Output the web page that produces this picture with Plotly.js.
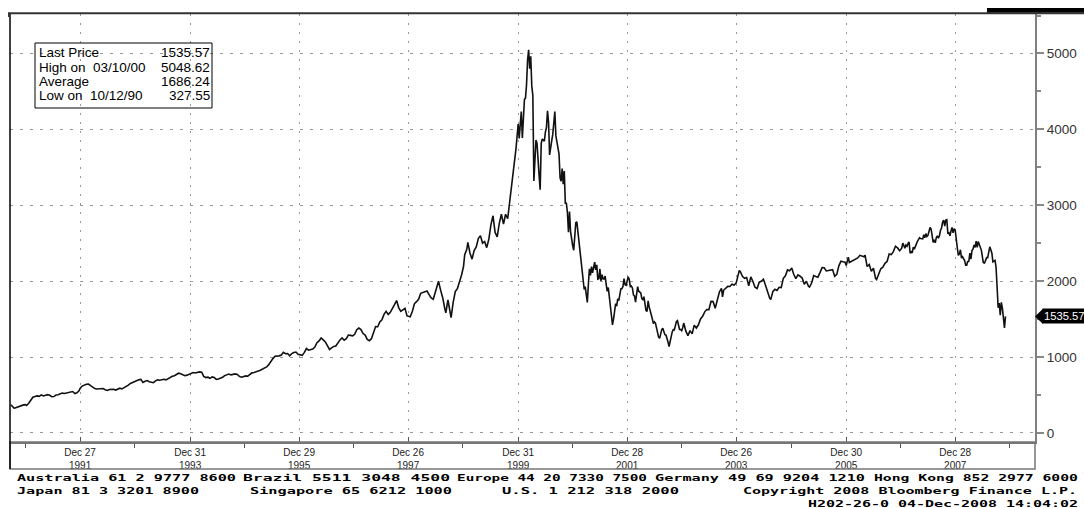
<!DOCTYPE html>
<html><head><meta charset="utf-8">
<script src="https://cdn.plot.ly/plotly-3.0.1.min.js"></script>
<style>html,body{margin:0;padding:0;background:#fff}#chart{width:1084px;height:508px}</style>
</head><body><div id="chart"></div>
<script>
// ---- data (weekly closes) ----
const dates = [
'1990-09-21','1990-10-05','1990-10-12','1990-10-19','1990-11-02','1990-11-16','1990-11-30','1990-12-14','1990-12-28',
'1991-01-04','1991-01-18','1991-02-01','1991-02-15','1991-03-01','1991-03-15','1991-03-29','1991-04-12','1991-04-26','1991-05-10','1991-05-24','1991-06-07','1991-06-21','1991-07-05','1991-07-19','1991-08-02','1991-08-16','1991-08-30','1991-09-13','1991-09-27','1991-10-11','1991-10-25','1991-11-08','1991-11-22','1991-12-06','1991-12-20','1991-12-27',
'1992-01-10','1992-01-24','1992-02-07','1992-02-21','1992-03-06','1992-03-20','1992-04-03','1992-04-17','1992-05-01','1992-05-15','1992-05-29','1992-06-12','1992-06-26','1992-07-10','1992-07-24','1992-08-07','1992-08-21','1992-09-04','1992-09-18','1992-10-02','1992-10-16','1992-10-30','1992-11-13','1992-11-27','1992-12-11','1992-12-25',
'1993-01-08','1993-01-22','1993-02-05','1993-02-19','1993-03-05','1993-03-19','1993-04-02','1993-04-16','1993-04-30','1993-05-14','1993-05-28','1993-06-11','1993-06-25','1993-07-09','1993-07-23','1993-08-06','1993-08-20','1993-09-03','1993-09-17','1993-10-01','1993-10-15','1993-10-29','1993-11-12','1993-11-26','1993-12-10','1993-12-24',
'1994-01-07','1994-01-21','1994-02-04','1994-02-18','1994-03-04','1994-03-18','1994-04-01','1994-04-15','1994-04-29','1994-05-13','1994-05-27','1994-06-10','1994-06-24','1994-07-08','1994-07-22','1994-08-05','1994-08-19','1994-09-02','1994-09-16','1994-09-30','1994-10-14','1994-10-28','1994-11-11','1994-11-25','1994-12-09','1994-12-23',
'1995-01-06','1995-01-20','1995-02-03','1995-02-17','1995-03-03','1995-03-17','1995-03-31','1995-04-14','1995-04-28','1995-05-12','1995-05-26','1995-06-09','1995-06-23','1995-07-07','1995-07-21','1995-08-04','1995-08-18','1995-09-01','1995-09-15','1995-09-29','1995-10-13','1995-10-27','1995-11-10','1995-11-24','1995-12-08','1995-12-22',
'1996-01-05','1996-01-19','1996-02-02','1996-02-16','1996-03-01','1996-03-15','1996-03-29','1996-04-12','1996-04-26','1996-05-10','1996-05-24','1996-06-07','1996-06-21','1996-07-05','1996-07-19','1996-08-02','1996-08-16','1996-08-30','1996-09-13','1996-09-27','1996-10-11','1996-10-25','1996-11-08','1996-11-22','1996-12-06','1996-12-20',
'1997-01-03','1997-01-17','1997-01-31','1997-02-14','1997-02-28','1997-03-14','1997-03-28','1997-04-11','1997-04-25','1997-05-09','1997-05-23','1997-06-06','1997-06-20','1997-07-04','1997-07-18','1997-08-01','1997-08-15','1997-08-29','1997-09-12','1997-09-26','1997-10-10','1997-10-24','1997-11-07','1997-11-21','1997-12-05','1997-12-19',
'1998-01-09','1998-01-23','1998-02-06','1998-02-20','1998-03-06','1998-03-20','1998-04-03','1998-04-17','1998-05-01','1998-05-15','1998-05-29','1998-06-12','1998-06-26','1998-07-10','1998-07-17','1998-07-31','1998-08-14','1998-08-28','1998-09-04','1998-09-18','1998-10-02','1998-10-09','1998-10-23','1998-11-06','1998-11-20','1998-12-04','1998-12-18','1998-12-31',
'1999-01-08','1999-01-22','1999-01-29','1999-02-12','1999-02-26','1999-03-12','1999-03-26','1999-04-09','1999-04-23','1999-05-07','1999-05-21','1999-06-04','1999-06-18','1999-07-02','1999-07-16','1999-07-30','1999-08-13','1999-08-27','1999-09-10','1999-09-24','1999-10-08','1999-10-22','1999-11-05','1999-11-19','1999-12-03','1999-12-17','1999-12-31',
'2000-01-07','2000-01-14','2000-01-21','2000-01-28','2000-02-04','2000-02-11','2000-02-18','2000-02-25','2000-03-03','2000-03-10','2000-03-17','2000-03-24','2000-03-31','2000-04-07','2000-04-14','2000-04-20','2000-04-28','2000-05-05','2000-05-12','2000-05-19','2000-05-26','2000-06-02','2000-06-09','2000-06-16','2000-06-23','2000-06-30','2000-07-07','2000-07-14','2000-07-21','2000-07-28','2000-08-04','2000-08-11','2000-08-18','2000-08-25','2000-09-01','2000-09-08','2000-09-15','2000-09-22','2000-09-29','2000-10-06','2000-10-13','2000-10-20','2000-10-27','2000-11-03','2000-11-10','2000-11-17','2000-11-24','2000-12-01','2000-12-08','2000-12-15','2000-12-22','2000-12-29',
'2001-01-05','2001-01-12','2001-01-19','2001-01-26','2001-02-02','2001-02-09','2001-02-16','2001-02-23','2001-03-02','2001-03-09','2001-03-16','2001-03-23','2001-03-30','2001-04-06','2001-04-13','2001-04-20','2001-04-27','2001-05-04','2001-05-11','2001-05-18','2001-05-25','2001-06-01','2001-06-08','2001-06-15','2001-06-22','2001-06-29','2001-07-06','2001-07-13','2001-07-20','2001-07-27','2001-08-03','2001-08-10','2001-08-17','2001-08-24','2001-08-31','2001-09-07','2001-09-21','2001-09-28','2001-10-05','2001-10-12','2001-10-19','2001-10-26','2001-11-02','2001-11-09','2001-11-16','2001-11-23','2001-11-30','2001-12-07','2001-12-14','2001-12-21','2001-12-28',
'2002-01-04','2002-01-11','2002-01-18','2002-01-25','2002-02-01','2002-02-08','2002-02-15','2002-02-22','2002-03-01','2002-03-08','2002-03-15','2002-03-22','2002-03-29','2002-04-05','2002-04-12','2002-04-19','2002-04-26','2002-05-03','2002-05-10','2002-05-17','2002-05-24','2002-05-31','2002-06-07','2002-06-14','2002-06-21','2002-06-28','2002-07-05','2002-07-12','2002-07-19','2002-07-26','2002-08-02','2002-08-09','2002-08-16','2002-08-23','2002-08-30','2002-09-06','2002-09-13','2002-09-20','2002-09-27','2002-10-04','2002-10-11','2002-10-18','2002-10-25','2002-11-01','2002-11-08','2002-11-15','2002-11-22','2002-11-29','2002-12-06','2002-12-13','2002-12-20','2002-12-27',
'2003-01-03','2003-01-10','2003-01-24','2003-02-07','2003-02-21','2003-03-07','2003-03-21','2003-04-04','2003-04-18','2003-05-02','2003-05-16','2003-05-30','2003-06-13','2003-06-27','2003-07-11','2003-07-25','2003-08-08','2003-08-22','2003-09-05','2003-09-19','2003-09-26','2003-10-03','2003-10-17','2003-10-31','2003-11-14','2003-11-28','2003-12-12','2003-12-26',
'2004-01-09','2004-01-16','2004-01-23','2004-02-06','2004-02-20','2004-03-05','2004-03-19','2004-04-02','2004-04-16','2004-04-30','2004-05-14','2004-05-28','2004-06-11','2004-06-25','2004-07-09','2004-07-23','2004-08-06','2004-08-13','2004-08-27','2004-09-10','2004-09-24','2004-10-08','2004-10-22','2004-11-05','2004-11-19','2004-12-03','2004-12-17','2004-12-31',
'2005-01-14','2005-01-28','2005-02-11','2005-02-25','2005-03-11','2005-03-25','2005-04-08','2005-04-22','2005-04-29','2005-05-13','2005-05-27','2005-06-10','2005-06-24','2005-07-08','2005-07-22','2005-08-05','2005-08-19','2005-09-02','2005-09-16','2005-09-30','2005-10-14','2005-10-28','2005-11-11','2005-11-25','2005-12-09','2005-12-23','2005-12-30',
'2006-01-13','2006-01-20','2006-02-03','2006-02-17','2006-03-03','2006-03-17','2006-03-31','2006-04-14','2006-04-28','2006-05-05','2006-05-19','2006-06-02','2006-06-16','2006-06-30','2006-07-14','2006-07-21','2006-08-04','2006-08-18','2006-09-01','2006-09-15','2006-09-29','2006-10-13','2006-10-27','2006-11-10','2006-11-24','2006-12-08','2006-12-22','2006-12-29',
'2007-01-05','2007-01-12','2007-01-19','2007-01-26','2007-02-02','2007-02-09','2007-02-16','2007-02-23','2007-03-02','2007-03-09','2007-03-16','2007-03-23','2007-03-30','2007-04-06','2007-04-13','2007-04-20','2007-04-27','2007-05-04','2007-05-11','2007-05-18','2007-05-25','2007-06-01','2007-06-08','2007-06-15','2007-06-22','2007-06-29','2007-07-06','2007-07-13','2007-07-20','2007-07-27','2007-08-03','2007-08-10','2007-08-17','2007-08-24','2007-08-31','2007-09-07','2007-09-14','2007-09-21','2007-09-28','2007-10-05','2007-10-12','2007-10-19','2007-10-26','2007-11-02','2007-11-09','2007-11-16','2007-11-23','2007-11-30','2007-12-07','2007-12-14','2007-12-21','2007-12-28',
'2008-01-04','2008-01-11','2008-01-18','2008-01-25','2008-02-01','2008-02-08','2008-02-15','2008-02-22','2008-02-29','2008-03-07','2008-03-14','2008-03-20','2008-03-28','2008-04-04','2008-04-11','2008-04-18','2008-04-25','2008-05-02','2008-05-09','2008-05-16','2008-05-23','2008-05-30','2008-06-06','2008-06-13','2008-06-20','2008-06-27','2008-07-03','2008-07-11','2008-07-18','2008-07-25','2008-08-01','2008-08-08','2008-08-15','2008-08-22','2008-08-29','2008-09-05','2008-09-12','2008-09-19','2008-09-26','2008-10-03','2008-10-10','2008-10-17','2008-10-24','2008-10-31','2008-11-07','2008-11-14','2008-11-21','2008-11-28'
];
const closes = [
372,345,327.55,330,340,356,359,370,373.8,
362,392,428,470,480,488,482,502,488,492,505,496,478,480,500,504,510,525,520,527,532,542,546,520,528,556,586,
618,632,642,645,622,608,585,580,582,586,585,570,560,572,578,575,565,575,590,580,596,608,630,652,665,674,
682,700,706,665,682,690,675,665,662,686,700,695,703,707,700,716,735,746,755,766,787,780,766,755,762,775,
786,796,790,800,805,800,745,730,735,720,738,730,705,712,720,735,756,768,776,765,770,778,772,745,735,748,
752,748,772,792,796,810,817,826,844,856,870,900,950,980,1010,1010,1016,1026,1062,1044,1046,1016,1046,1060,1066,1036,
1030,1022,1062,1112,1090,1100,1106,1132,1190,1212,1252,1226,1200,1150,1100,1122,1140,1146,1192,1226,1252,1222,1242,1290,1286,1280,
1300,1360,1382,1362,1310,1290,1232,1216,1242,1332,1402,1400,1462,1492,1562,1602,1562,1590,1632,1690,1745,1652,1602,1622,1642,1542,
1530,1600,1702,1730,1762,1840,1852,1862,1870,1822,1780,1762,1862,1962,2000,1882,1782,1640,1582,1752,1622,1520,1722,1862,1902,1982,2082,2193,
2350,2420,2510,2372,2290,2402,2452,2562,2600,2502,2522,2442,2552,2742,2862,2642,2582,2762,2882,2752,2882,2822,3052,3332,3502,3752,4069,
3882,4065,4235,3887,4244,4395,4411,4590,4914,5048.62,4798,4963,4573,4446,3321,3643,3860,3816,3529,3390,3205,3813,3874,3860,3845,3966,4024,4246,4095,3663,3787,3849,3930,4042,4234,3914,3835,3803,3673,3361,3317,3483,3278,3451,3028,3027,2904,2645,2917,2653,2518,2470,
2407,2626,2770,2782,2660,2470,2425,2262,2117,2052,1890,1928,1840,1720,1961,2163,2075,2192,2108,2198,2251,2149,2215,2028,2034,2161,2004,2085,2029,2030,2066,1957,1867,1916,1805,1687,1423,1499,1605,1703,1671,1768,1745,1828,1898,1903,1930,2035,1953,1945,1987,
2059,2022,1930,1937,1911,1818,1805,1724,1802,1929,1868,1851,1845,1770,1757,1796,1663,1613,1600,1741,1661,1615,1535,1504,1440,1463,1448,1373,1319,1262,1247,1306,1361,1380,1315,1295,1291,1221,1199,1139,1210,1287,1331,1361,1359,1411,1468,1479,1422,1363,1363,1348,
1387,1448,1342,1282,1349,1305,1421,1383,1425,1502,1538,1596,1626,1625,1733,1731,1644,1765,1858,1905,1792,1880,1912,1932,1930,1960,1949,1974,
2086,2140,2124,2064,2037,2047,1940,2057,1995,1920,1904,1987,1999,2025,1946,1849,1776,1757,1862,1894,1879,1919,1915,2038,2070,2148,2136,2175,
2087,2035,2082,2065,2041,1958,1999,1932,1922,1976,2075,2063,2053,2112,2179,2177,2135,2141,2146,2152,2064,2090,2202,2263,2256,2250,2205,
2317,2247,2262,2282,2302,2306,2340,2326,2322,2343,2193,2219,2129,2172,2037,2021,2085,2163,2184,2235,2258,2357,2350,2389,2460,2438,2401,2415,
2434,2502,2452,2435,2475,2460,2497,2515,2368,2387,2372,2448,2422,2471,2491,2526,2557,2573,2562,2559,2557,2613,2573,2626,2589,2603,2666,2707,2688,2562,2511,2544,2505,2576,2596,2566,2602,2671,2701,2780,2805,2725,2804,2810,2627,2637,2597,2660,2707,2636,2691,2674,
2504,2440,2340,2360,2413,2304,2321,2303,2271,2212,2212,2258,2261,2370,2290,2402,2422,2476,2445,2528,2444,2522,2474,2454,2406,2315,2245,2239,2282,2310,2310,2414,2452,2414,2368,2255,2261,2273,2183,1947,1649,1711,1552,1721,1647,1516,1384,1535.57
];
const majorTickDates = ['1991-12-27','1993-12-31','1995-12-29','1997-12-26','1999-12-31','2001-12-28','2003-12-26','2005-12-30','2007-12-28'];
const majorTickLabels = ['Dec 27<br>1991','Dec 31<br>1993','Dec 29<br>1995','Dec 26<br>1997','Dec 31<br>1999','Dec 28<br>2001','Dec 26<br>2003','Dec 30<br>2005','Dec 28<br>2007'];
const minorTickDates = ['1990-12-28','1992-12-25','1994-12-30','1996-12-27','1998-12-25','2000-12-29','2002-12-27','2004-12-31','2006-12-29','2008-12-26'];
const yTickValues = [0,1000,2000,3000,4000,5000];
const statLabels = ['Last Price','High on\u00a0 03/10/00','Average','Low on\u00a0 10/12/90'];
const statValues = ['1535.57','5048.62','1686.24','327.55'];
const lastPrice = 1535.57;
const footerRow1 = ['Australia 61 2 9777 8600','Brazil 5511 3048 4500','Europe 44 20 7330 7500','Germany 49 69 9204 1210','Hong Kong 852 2977 6000'];
const footerRow2 = ['Japan 81 3 3201 8900','Singapore 65 6212 1000','U.S. 1 212 318 2000','Copyright 2008 Bloomberg Finance L.P.'];
const footerRow3 = ['H202-26-0 04-Dec-2008 14:04:02'];

// ---- layout helpers (pixel -> paper) ----
const W = 1084, H = 508, ML = 10, MR = 49, MT = 14, MB = 66;
const PW = W - ML - MR, PH = H - MT - MB;
const px = x => (x - ML) / PW;
const py = y => 1 - (y - MT) / PH;
const yRange = [-119, 5520];

const annotations = [];
const annWidths = [];
function addAnn(a, w) { annotations.push(a); annWidths.push(w || 0); }

const legendFont = {family: 'Liberation Sans, Arial, sans-serif', size: 13.5, color: '#000'};
const rowY = [52.8, 67.2, 81.5, 95.8];
statLabels.forEach((t, i) => {
  addAnn({xref:'paper', yref:'paper', x: px(37), y: py(rowY[i]), xanchor:'left', yanchor:'middle', text: t, showarrow:false, font: legendFont, align:'left'});
  addAnn({xref:'paper', yref:'paper', x: px(212), y: py(rowY[i]), xanchor:'right', yanchor:'middle', text: statValues[i], showarrow:false, font: legendFont, align:'right'});
});

// last price tag
addAnn({xref:'paper', yref:'y', x: px(1042), y: lastPrice, xanchor:'left', yanchor:'middle', text: String(lastPrice), showarrow:false,
  bgcolor:'#000', borderpad:1, font:{family:'Liberation Sans, Arial, sans-serif', size:11.2, color:'#fff'}, align:'left'});

// footer
const footFont = {family:'DejaVu Sans Mono, monospace', size:9.5, color:'#000', weight:'bold'};
const row1Pos = [[15,234],[241,448],[455,645],[653,863],[872,1076]];
const row2Pos = [[15,197],[248,450],[500,677],[741,1075]];
const row3Pos = [[806,1076]];
[[footerRow1,row1Pos,477],[footerRow2,row2Pos,490],[footerRow3,row3Pos,503]].forEach(([texts,pos,yy]) => {
  texts.forEach((t,i) => addAnn({xref:'paper', yref:'paper', x: px(pos[i][0]), y: py(yy), xanchor:'left', yanchor:'middle',
    text: t, showarrow:false, font: footFont, align:'left'}, pos[i][1]-pos[i][0]));
});

const shapes = [
  {type:'rect', xref:'paper', yref:'paper', x0:px(35), x1:px(212), y0:py(43), y1:py(108), line:{color:'#000', width:1}, fillcolor:'rgba(0,0,0,0)'},
  {type:'rect', xref:'paper', yref:'paper', x0:0, x1:1, y0:py(469), y1:0, line:{color:'#777', width:1.5}},
  {type:'line', xref:'paper', yref:'paper', x0:0, x1:0, y0:py(469), y1:1, line:{color:'#000', width:1.5}},
  {type:'line', xref:'paper', yref:'paper', x0:px(8), x1:px(1084), y0:py(13.3), y1:py(13.3), line:{color:'#333', width:2}},
  {type:'line', xref:'paper', yref:'paper', x0:px(8.5), x1:px(8.5), y0:py(13), y1:py(17), line:{color:'#333', width:1}},
  {type:'rect', xref:'paper', yref:'paper', x0:px(987), x1:px(1084), y0:py(12.5), y1:py(8), line:{width:0}, fillcolor:'#000'},
  {type:'path', xref:'paper', yref:'y', path:`M ${px(1035)},${lastPrice} L ${px(1043)},${lastPrice+100} L ${px(1043)},${lastPrice-100} Z`, line:{width:0}, fillcolor:'#000'}
];

const trace = {x: dates, y: closes, type:'scatter', mode:'lines', line:{color:'#111', width:1.6}, hoverinfo:'skip'};

const layout = {
  width: W, height: H,
  margin: {l: ML, r: MR, t: MT, b: MB, pad: 0},
  paper_bgcolor:'#fff', plot_bgcolor:'#fff',
  showlegend:false,
  xaxis: {type:'date', range:['1990-09-15','2009-06-13'], tickmode:'array', tickvals: majorTickDates, ticktext: majorTickLabels,
    ticks:'inside', ticklen:5, tickcolor:'#555', tickwidth:1, showline:true, linecolor:'#777', linewidth:1.5,
    showgrid:true, gridcolor:'#999', gridwidth:1, griddash:'2px,7px', zeroline:false,
    tickfont:{family:'Liberation Sans, Arial, sans-serif', size:10, color:'#222'},
    minor:{tickmode:'array', tickvals: minorTickDates, ticks:'outside', ticklen:4, tickcolor:'#555', showgrid:false}},
  yaxis: {side:'right', range: yRange, tickmode:'array', tickvals: yTickValues,
    ticks:'outside', ticklen:7, tickcolor:'#888', tickwidth:2, showline:true, linecolor:'#808080', linewidth:2,
    showgrid:true, gridcolor:'#999', gridwidth:1, griddash:'3px,7px', zeroline:false,
    tickfont:{family:'Liberation Sans, Arial, sans-serif', size:13.5, color:'#333'},
    minor:{dtick:500, ticks:'outside', ticklen:4, tickcolor:'#888', showgrid:false}},
  annotations, shapes
};

Plotly.newPlot('chart', [trace], layout, {staticPlot:true, displayModeBar:false}).then(gd => {
  gd.querySelectorAll('g.annotation').forEach(g => {
    const idx = +g.getAttribute('data-index');
    const w = annWidths[idx];
    if (w) {
      const t = g.querySelector('text.annotation-text');
      if (t) { t.setAttribute('textLength', w); t.setAttribute('lengthAdjust', 'spacingAndGlyphs'); }
    }
  });
});
</script></body></html>
